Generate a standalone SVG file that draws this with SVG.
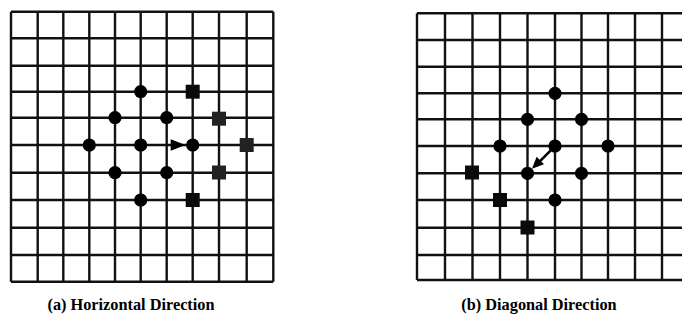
<svg xmlns="http://www.w3.org/2000/svg" width="682" height="320" viewBox="0 0 682 320">
  <style>
    .grid line { stroke: #111; stroke-width: 2.4; }
    .dot { fill: #000; }
    .sq { fill: #0a0a0a; }
    .sqg { fill: #222; }
    .cap { font-family: "Liberation Serif", "Times New Roman", serif; font-size: 16.3px; font-weight: bold; fill: #000; }
    .arrow { fill: #000; }
    .shaft { stroke: #000; stroke-width: 2.6; fill: none; }
  </style>
  <rect width="682" height="320" fill="#fff"/>

  <!-- Left grid -->
  <g id="grid-a" class="grid">
    <line x1="11" y1="11.7" x2="11" y2="281.7"/>
    <line x1="37.7" y1="11.7" x2="37.7" y2="281.7"/>
    <line x1="63.3" y1="11.7" x2="63.3" y2="281.7"/>
    <line x1="89.3" y1="11.7" x2="89.3" y2="281.7"/>
    <line x1="115" y1="11.7" x2="115" y2="281.7"/>
    <line x1="140.7" y1="11.7" x2="140.7" y2="281.7"/>
    <line x1="166.7" y1="11.7" x2="166.7" y2="281.7"/>
    <line x1="192.7" y1="11.7" x2="192.7" y2="281.7"/>
    <line x1="219" y1="11.7" x2="219" y2="281.7"/>
    <line x1="246.7" y1="11.7" x2="246.7" y2="281.7"/>
    <line x1="273.3" y1="11.7" x2="273.3" y2="281.7"/>
    <line x1="11" y1="11.7" x2="273.3" y2="11.7"/>
    <line x1="11" y1="38.3" x2="273.3" y2="38.3"/>
    <line x1="11" y1="65.7" x2="273.3" y2="65.7"/>
    <line x1="11" y1="91.7" x2="273.3" y2="91.7"/>
    <line x1="11" y1="117.7" x2="273.3" y2="117.7"/>
    <line x1="11" y1="145" x2="273.3" y2="145"/>
    <line x1="11" y1="172.7" x2="273.3" y2="172.7"/>
    <line x1="11" y1="200" x2="273.3" y2="200"/>
    <line x1="11" y1="227.7" x2="273.3" y2="227.7"/>
    <line x1="11" y1="255" x2="273.3" y2="255"/>
    <line x1="11" y1="281.7" x2="273.3" y2="281.7"/>
  </g>

  <!-- Right grid -->
  <g id="grid-b" class="grid">
    <line x1="417" y1="13.3" x2="417" y2="280"/>
    <line x1="445" y1="13.3" x2="445" y2="280"/>
    <line x1="472.5" y1="13.3" x2="472.5" y2="280"/>
    <line x1="500" y1="13.3" x2="500" y2="280"/>
    <line x1="527.5" y1="13.3" x2="527.5" y2="280"/>
    <line x1="555" y1="13.3" x2="555" y2="280"/>
    <line x1="581.5" y1="13.3" x2="581.5" y2="280"/>
    <line x1="608" y1="13.3" x2="608" y2="280"/>
    <line x1="635" y1="13.3" x2="635" y2="280"/>
    <line x1="662" y1="13.3" x2="662" y2="280"/>
    <line x1="689" y1="13.3" x2="689" y2="280"/>
    <line x1="417" y1="13.3" x2="689" y2="13.3"/>
    <line x1="417" y1="40" x2="689" y2="40"/>
    <line x1="417" y1="66.7" x2="689" y2="66.7"/>
    <line x1="417" y1="93.3" x2="689" y2="93.3"/>
    <line x1="417" y1="119.3" x2="689" y2="119.3"/>
    <line x1="417" y1="146" x2="689" y2="146"/>
    <line x1="417" y1="173.3" x2="689" y2="173.3"/>
    <line x1="417" y1="200" x2="689" y2="200"/>
    <line x1="417" y1="227.7" x2="689" y2="227.7"/>
    <line x1="417" y1="255" x2="689" y2="255"/>
    <line x1="417" y1="280" x2="689" y2="280"/>
  </g>

  <!-- Left nodes -->
  <g id="a-dot-1"><circle class="dot" cx="140.7" cy="91.7" r="6.6"/></g>
  <g id="a-dot-2"><circle class="dot" cx="115" cy="117.7" r="6.6"/></g>
  <g id="a-dot-3"><circle class="dot" cx="166.7" cy="117.7" r="6.6"/></g>
  <g id="a-dot-4"><circle class="dot" cx="89.3" cy="145" r="6.6"/></g>
  <g id="a-dot-5"><circle class="dot" cx="140.7" cy="145" r="6.6"/></g>
  <g id="a-dot-6"><circle class="dot" cx="192.7" cy="145" r="6.6"/></g>
  <g id="a-dot-7"><circle class="dot" cx="115" cy="172.7" r="6.6"/></g>
  <g id="a-dot-8"><circle class="dot" cx="166.7" cy="172.7" r="6.6"/></g>
  <g id="a-dot-9"><circle class="dot" cx="140.7" cy="200" r="6.6"/></g>
  <g id="a-sq-1"><rect class="sq" x="185.7" y="84.7" width="14" height="14"/></g>
  <g id="a-sq-2"><rect class="sqg" x="212" y="111.7" width="14" height="14"/></g>
  <g id="a-sq-3"><rect class="sqg" x="239.7" y="138" width="14" height="14"/></g>
  <g id="a-sq-4"><rect class="sqg" x="212" y="165.5" width="14" height="14"/></g>
  <g id="a-sq-5"><rect class="sq" x="185.7" y="193" width="14" height="14"/></g>

  <!-- Right nodes -->
  <g id="b-dot-1"><circle class="dot" cx="555" cy="93.3" r="6.6"/></g>
  <g id="b-dot-2"><circle class="dot" cx="527.5" cy="119.3" r="6.6"/></g>
  <g id="b-dot-3"><circle class="dot" cx="581.5" cy="119.3" r="6.6"/></g>
  <g id="b-dot-4"><circle class="dot" cx="500" cy="146" r="6.6"/></g>
  <g id="b-dot-5"><circle class="dot" cx="555" cy="146" r="6.6"/></g>
  <g id="b-dot-6"><circle class="dot" cx="608" cy="146" r="6.6"/></g>
  <g id="b-dot-7"><circle class="dot" cx="527.5" cy="173.3" r="6.6"/></g>
  <g id="b-dot-8"><circle class="dot" cx="581.5" cy="173.3" r="6.6"/></g>
  <g id="b-dot-9"><circle class="dot" cx="555" cy="200" r="6.6"/></g>
  <g id="b-sq-1"><rect class="sq" x="465" y="165.5" width="14" height="14"/></g>
  <g id="b-sq-2"><rect class="sq" x="493" y="193" width="14" height="14"/></g>
  <g id="b-sq-3"><rect class="sq" x="520.5" y="220.5" width="14" height="14"/></g>

  <!-- Connectors -->
  <g id="connectors">
    <polygon class="arrow" points="170.7,139.3 185.5,145 170.7,150.7"/>
    <line class="shaft" x1="551" y1="150.2" x2="540" y2="161.2"/>
    <polygon class="arrow" points="532,168.8 536.6,156.8 544,164.2"/>
  </g>

  <!-- Captions -->
  <text class="cap" x="131" y="310" text-anchor="middle">(a) Horizontal Direction</text>
  <text class="cap" x="539" y="310" text-anchor="middle">(b) Diagonal Direction</text>
</svg>
